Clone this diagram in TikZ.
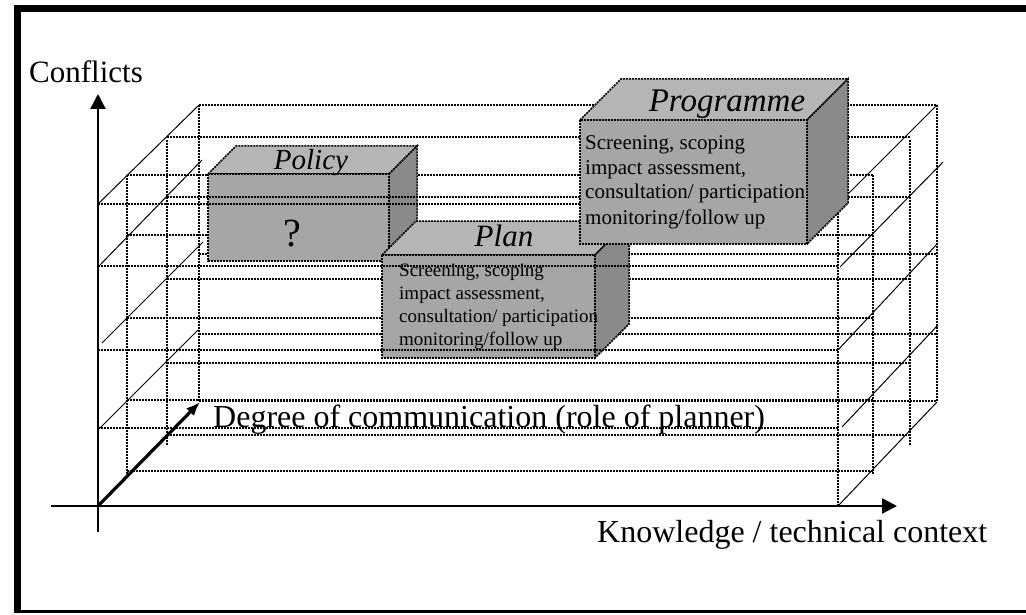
\documentclass[tikz,border=0pt]{standalone}
\usepackage{fontspec}
\setmainfont{Liberation Serif}
\usetikzlibrary{arrows.meta}

\definecolor{boxtop}{gray}{0.71}
\definecolor{boxfront}{gray}{0.65}
\definecolor{boxside}{gray}{0.54}

\newcommand{\fs}[1]{\fontsize{#1}{#1}\selectfont}

% cuboid: front face (#1,#2)-(#3,#4), depth #5
\newcommand{\cuboid}[5]{%
  \filldraw[gridline, fill=boxtop] (#1,#2) -- ++(#5,-#5) -- (#3+#5,#2-#5) -- (#3,#2) -- cycle;
  \filldraw[gridline, fill=boxside] (#3,#2) -- (#3+#5,#2-#5) -- (#3+#5,#4-#5) -- (#3,#4) -- cycle;
  \filldraw[gridline, fill=boxfront] (#1,#2) rectangle (#3,#4);
}

\begin{document}
\begin{tikzpicture}[x=1pt, y=-1pt,
  gridline/.style={line width=1.5pt, dash pattern=on 2pt off 1pt},
  depthline/.style={line width=1pt},
  axisline/.style={line width=2.4pt, -{Triangle[length=15pt, width=15pt]}},
  lbl/.style={inner sep=0pt, anchor=base west}]

\useasboundingbox (0,0) rectangle (1026,615);

% frame
\draw[line width=7pt] (17,613) -- (17,8.5) -- (1030,8.5);
\draw[line width=2.5pt] (13.5,611.5) -- (1030,611.5);

% Draw the grid, planes from front to back
\foreach \xl/\xr/\yt/\yb in {98/838/204/506, 127/873/175/475, 167/910/140/445, 199/937/105/401}
  \draw[gridline] (\xl,\yt) -- (\xl,\yb) (\xr,\yt) -- (\xr,\yb);
\foreach \y in {175,235,318,400,471}
  \draw[gridline] (127,\y) -- (873,\y);
\foreach \y in {137,279,363,435}
  \draw[gridline] (167,\y) -- (910,\y);
\foreach \y in {105,254,334,401}
  \draw[gridline] (199,\y) -- (937,\y);

% depth lines
\foreach \xa/\ya/\xb/\yb in {98/204/199/105, 100/265/202/160, 102/343/203/242, 98/430/198/330,
    838/204/937/105, 840/267/943/162, 838/350/938/243, 842/427/938/325, 838/506/937/402}
  \draw[depthline] (\xa,\ya) -- (\xb,\yb);

% Policy and Plan
\cuboid{208}{174}{389}{261}{28}
\node[font=\fs{29}\itshape, anchor=base] (policy) at (311,170) {Policy};
\node[font=\fs{40}, anchor=base] (question) at (292,246) {?};
\cuboid{382}{255}{595}{358}{34}
\node[font=\fs{31}\itshape, anchor=base] (plan) at (504,246) {Plan};
\node[lbl, font=\fontsize{19}{22.7}\selectfont, align=left] (plantext) at (399,345)
  {Screening, scoping\\impact assessment,\\consultation/ participation\\monitoring/follow up};

% front plane lines
\foreach \y in {204,266,350,428,506}
  \draw[gridline] (98,\y) -- (838,\y);
\draw[gridline] (167,197) -- (910,197);

% Programme
\cuboid{580}{120}{807}{244}{41}
\node[font=\fs{33}\itshape, anchor=base] (programme) at (727,112) {Programme};
\node[lbl, font=\fontsize{21}{25}\selectfont, align=left] (progtext) at (585,224)
  {Screening, scoping\\impact assessment,\\consultation/ participation\\monitoring/follow up};

% Draw the three axes
\coordinate (origin) at (98,506);
\coordinate (ytop) at (98,94);
\coordinate (ybottom) at (98,532);
\coordinate (xleft) at (51,506);
\coordinate (xright) at (897,506);
\coordinate (zend) at (200,402);
\draw[axisline] (ybottom) -- (ytop);
\draw[axisline] (xleft) -- (xright);
\draw[line width=3.2pt, -{Latex[length=14pt, width=11pt]}] (origin) -- (zend);

\node[lbl, font=\fs{31}] (conflicts) at (29,83) {Conflicts};
\node[lbl, font=\fs{32}] (knowledge) at (597,542) {Knowledge / technical context};
\node[lbl, font=\fs{32}] (degree) at (213,427) {Degree of communication (role of planner)};

\end{tikzpicture}
\end{document}
